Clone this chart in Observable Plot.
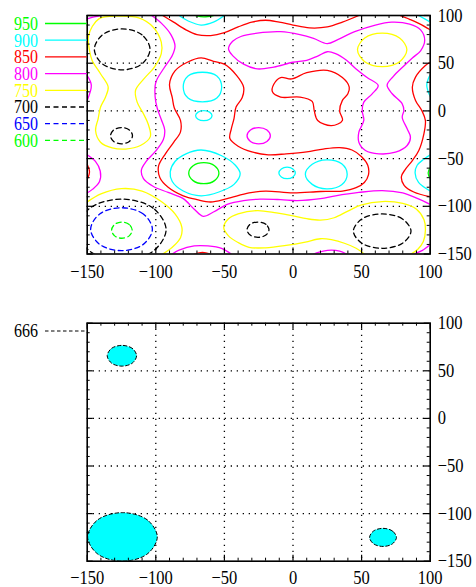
<!DOCTYPE html>
<html><head><meta charset="utf-8">
<script src="https://cdn.jsdelivr.net/npm/d3@7"></script>
<script src="https://cdn.jsdelivr.net/npm/@observablehq/plot@0.6"></script>
<style>
body{margin:0;background:#fff;}
#wrap{position:relative;width:476px;height:587px;overflow:hidden;}
.panel{position:absolute;left:0;}
#wrap svg, #wrap svg text{font-family:"Liberation Serif","DejaVu Serif",serif !important;}
</style></head><body><div id="wrap"></div>
<script>
// ---- levels / legend ----
const levels = [950, 900, 850, 800, 750, 700, 650, 600];
const levelColors = ["#00ff00", "#00ffff", "#ff0000", "#ff00ff", "#ffff00", "#000000", "#0000ff", "#00ff00"];
const levelDashed = [false, false, false, false, false, true, true, true];
const fillLevel = 666;
const tickValues = [-150, -100, -50, 0, 50, 100];
const gridValues = [-100, -50, 0, 50];
const minorValues = [-140, -130, -120, -110, -90, -80, -70, -60, -40, -30, -20, -10, 10, 20, 30, 40, 60, 70, 80, 90];

// ---- contour lines (x, y) ----
const g950_top = [[-71,100],[-65,98.5],[-58,100]];
const g950_right = [[100,-59],[98.5,-65],[100,-71]];
const g950_center = [[-54,-65.3],[-57.2,-57.5],[-65,-54.3],[-72.8,-57.5],[-76,-65.3],[-72.8,-73.1],[-65,-76.3],[-57.2,-73.1]];

const c900_top = [[-83,100],[-76,94],[-67,90],[-58,93],[-50,100]];
const c900_topRight = [[91.5,100],[96,96.5],[100,93]];
const c900_right = [[100,38],[97.5,27],[100,15]];
const c900_rightLow = [[100,-46],[95,-51],[90.5,-57],[89,-65],[91.5,-75],[100,-84]];
const c900_a = [[-52,25],[-55.5,36.6],[-66,40.5],[-76.5,36.6],[-80,25],[-76.5,13.4],[-66,9.5],[-55.5,13.4]];
const c900_b = [[-59,-5],[-60.8,-1.3],[-65,0.2],[-69.2,-1.3],[-71,-5],[-69.2,-8.7],[-65,-10.2],[-60.8,-8.7]];
const c900_c = [[-67,-41],[-52,-47],[-42,-57],[-38.5,-66],[-43,-77],[-54,-85],[-67,-89],[-80,-84],[-88,-74],[-89.5,-64],[-86,-53],[-78,-45]];
const c900_d = [[1.7,-65],[-0.1,-60.8],[-4.3,-59],[-8.5,-60.8],[-10.3,-65],[-8.5,-69.2],[-4.3,-71],[-0.1,-69.2]];
const c900_e = [[39.5,-66.5],[35.5,-55.5],[24.5,-51.3],[14,-56],[9,-66.5],[14,-77],[24.5,-81.7],[35.5,-77.5]];

const r850_top = [[-95,100],[-87,93],[-78,85],[-70,80],[-60,79],[-50,82],[-40,88],[-30,93],[-20,95],[-10,93],[0,90],[12,87],[25,88],[36,93],[48,100]];
const r850_topRight = [[78,100],[85,96],[92,91.5],[100,85]];
const r850_right = [[100,51],[96.5,47.5],[89.3,35.4],[87,25],[89.3,11],[94,0],[96.5,-10],[95.4,-24],[91.7,-41.5],[87,-52],[82,-61],[79,-69],[81,-78],[88,-85],[100,-90]];
const r850_left = [[-150,-56],[-148.3,-64],[-150,-72]];
const r850_bottom = [[-72,-150],[-66,-148.3],[-60,-150]];
const r850_band = [[-67,55.5],[-58,52],[-50,49],[-41,37],[-36,25],[-37,14],[-41.5,4],[-43,-8],[-45,-19],[-46,-29],[-40,-37],[-30,-43],[-18,-46],[-5,-45],[10,-43],[22,-40],[34,-38.5],[43,-41],[50,-48],[54.5,-57],[55,-67],[52,-75],[46,-80.5],[36,-84],[20,-84.5],[0,-86],[-20,-84],[-32,-86],[-48,-92],[-60,-95.5],[-70,-93],[-80,-89],[-91,-80],[-97,-70],[-98,-58],[-93,-45],[-87,-33],[-82,-22],[-82,-10],[-86.5,3],[-88,14],[-90,28],[-86,42],[-77,51]];
const r850_bean = [[-15,20],[-14,28],[-9,35],[-1,33.5],[10,40],[25,42.5],[36,35],[41,25],[40,18],[36,11],[34,0],[36,-10],[28,-15.5],[18,-10],[15.5,0],[14,10],[5,14.5],[-9,14.5]];

const m800_corner = [[-150,96.5],[-145,98.5],[-140,100]];
const m800_leftUp = [[-150,37],[-147,27],[-150,11]];
const m800_leftLow = [[-150,-46],[-144,-53],[-140.5,-63],[-141,-74],[-146,-82],[-150,-86]];
const m800_long = [[-103,100],[-96,92],[-89,80],[-86,68],[-88,58],[-94,45],[-100,30],[-100.5,15],[-99,3],[-96,-9],[-93.5,-20],[-94.5,-30],[-100,-42],[-107,-53],[-110.5,-62],[-109,-71],[-102,-79],[-91,-85.5],[-80,-92],[-72,-103],[-65.5,-110.5],[-58,-106],[-48,-98],[-36,-94],[-24,-92.5],[-9,-93],[3,-94],[20,-92],[31,-89],[48,-85.5],[65,-83.5],[80,-86],[91,-92],[100,-98]];
const m800_loop = [[-47,65],[-44,73],[-38,78],[-26,81.5],[-9,83],[5,80],[15,76],[25,70.5],[33,75],[45,83],[60,90],[72,93],[85,91],[93,85],[96,74],[93,63],[87,55.5],[80,46],[73,36],[68.6,27],[72.3,18],[79.6,7.4],[80.8,0.4],[79.6,-6.6],[83.2,-18.8],[85.6,-27.5],[83.2,-36.3],[74.7,-43.3],[62.6,-45],[52.8,-41.5],[48,-32.8],[48,-22.3],[51.6,-10],[50.4,0.4],[51.6,9.2],[57.7,17.9],[62.1,26.6],[54,35],[46,44],[39,53],[31,60],[25,62],[18,57.5],[10,53],[0,51],[-14,46],[-26,44],[-36,49],[-44,58]];
const m800_small = [[-16.5,-26],[-19,-20],[-25,-17.5],[-31,-20],[-33.5,-26],[-31,-32],[-25,-34.5],[-19,-32]];
const m800_bottomA = [[-88,-150],[-83,-146],[-72,-141.5],[-62,-141.5],[-52,-144],[-45,-150]];
const m800_bottomB = [[15,-150],[22,-147],[28,-146],[34,-147],[39,-150]];
const m800_bottomCorner = [[88,-150],[94,-146.5],[100,-140]];

const y750_left = [[-141.5,96.5],[-127,99.3],[-112.4,97.6],[-102,88],[-96,72],[-96,60],[-101,46],[-108.7,33.6],[-114.8,21.4],[-113.6,9.2],[-109,-3],[-105.5,-14],[-104,-27],[-111.2,-36.3],[-122,-40],[-131.8,-38.7],[-140.3,-32.8],[-143.9,-20.6],[-142,-8],[-140.3,3.9],[-136.7,14.4],[-134.7,24.9],[-140.3,38.9],[-146.4,52.8],[-148.3,63.3],[-149,79]];
const y750_bottomLeft = [[-150,-95.5],[-140,-87],[-125,-81.5],[-110,-84],[-96,-95],[-86,-108],[-81,-122],[-82,-133],[-88,-143],[-95,-150]];
const y750_bottom = [[52,-150],[46,-144],[38,-139],[28,-135],[20,-134],[9,-137.5],[-5,-141],[-20,-143.5],[-32,-143],[-40,-138],[-47,-131],[-50.5,-122],[-47,-113],[-40,-108],[-26,-104.5],[-12,-107],[0,-110],[10,-113],[20,-114.5],[30,-112],[40,-105],[50,-98.5],[65,-95],[80,-97],[90,-103],[95.5,-114],[96.5,-125],[95,-137],[91,-145],[86,-150]];
const y750_ring = [[83,64],[77.7,76.4],[65,81.5],[52.3,76.4],[47,64],[52.3,51.6],[65,46.5],[77.7,51.6]];

const k700_a = [[-104.2,64.5],[-110.1,79.7],[-124.5,86],[-138.9,79.7],[-144.8,64.5],[-138.9,49.3],[-124.5,43],[-110.1,49.3]];
const k700_b = [[-117,-26],[-119.3,-20],[-125,-17.5],[-130.7,-20],[-133,-26],[-130.7,-32],[-125,-34.5],[-119.3,-32]];
const k700_c = [[-92.5,-124.5],[-102,-101.9],[-125,-92.5],[-148,-101.9],[-157.5,-124.5],[-148,-147.1],[-125,-156.5],[-102,-147.1]];
const k700_d = [[-17.5,-124.5],[-19.8,-118.8],[-25.5,-116.5],[-31.2,-118.8],[-33.5,-124.5],[-31.2,-130.2],[-25.5,-132.5],[-19.8,-130.2]];
const k700_e = [[86,-126],[79.8,-113.3],[65,-108],[50.2,-113.3],[44,-126],[50.2,-138.7],[65,-144],[79.8,-138.7]];

const b650_ring = [[-102.5,-124],[-109.1,-108.1],[-125,-101.5],[-140.9,-108.1],[-147.5,-124],[-140.9,-139.9],[-125,-146.5],[-109.1,-139.9]];
const g600_ring = [[-117.2,-125],[-119.4,-119],[-124.7,-116.5],[-130,-119],[-132.2,-125],[-130,-131],[-124.7,-133.5],[-119.4,-131]];

// ---- level 666 regions (bottom panel) ----
const f666_a = [[-114,65.8],[-117.1,73.5],[-124.7,76.7],[-132.3,73.5],[-135.4,65.8],[-132.3,58.1],[-124.7,54.9],[-117.1,58.1]];
const f666_b = [[-98.9,-124.5],[-106.3,-106.5],[-124.3,-99],[-142.3,-106.5],[-149.7,-124.5],[-142.3,-142.5],[-124.3,-150],[-106.3,-142.5]];
const f666_c = [[75.4,-125],[72.5,-118.3],[65.6,-115.5],[58.7,-118.3],[55.8,-125],[58.7,-131.7],[65.6,-134.5],[72.5,-131.7]];

const contours = [
  {level:950, closed:false, pts:g950_top}, {level:950, closed:false, pts:g950_right}, {level:950, closed:true, pts:g950_center},
  {level:900, closed:false, pts:c900_top}, {level:900, closed:false, pts:c900_topRight}, {level:900, closed:false, pts:c900_right},
  {level:900, closed:false, pts:c900_rightLow}, {level:900, closed:true, pts:c900_a}, {level:900, closed:true, pts:c900_b},
  {level:900, closed:true, pts:c900_c}, {level:900, closed:true, pts:c900_d}, {level:900, closed:true, pts:c900_e},
  {level:850, closed:false, pts:r850_top}, {level:850, closed:false, pts:r850_topRight}, {level:850, closed:false, pts:r850_right},
  {level:850, closed:false, pts:r850_left}, {level:850, closed:false, pts:r850_bottom}, {level:850, closed:true, pts:r850_band},
  {level:850, closed:true, pts:r850_bean},
  {level:800, closed:false, pts:m800_corner}, {level:800, closed:false, pts:m800_leftUp}, {level:800, closed:false, pts:m800_leftLow},
  {level:800, closed:false, pts:m800_long}, {level:800, closed:true, pts:m800_loop}, {level:800, closed:true, pts:m800_small},
  {level:800, closed:false, pts:m800_bottomA}, {level:800, closed:false, pts:m800_bottomB}, {level:800, closed:false, pts:m800_bottomCorner},
  {level:750, closed:true, pts:y750_left}, {level:750, closed:false, pts:y750_bottomLeft}, {level:750, closed:false, pts:y750_bottom},
  {level:750, closed:true, pts:y750_ring},
  {level:700, closed:true, pts:k700_a}, {level:700, closed:true, pts:k700_b}, {level:700, closed:true, pts:k700_c},
  {level:700, closed:true, pts:k700_d}, {level:700, closed:true, pts:k700_e},
  {level:650, closed:true, pts:b650_ring},
  {level:600, closed:true, pts:g600_ring}
];
const fills666 = [f666_a, f666_b, f666_c];

// ---- build tables ----
const colorOf = lv => levelColors[levels.indexOf(lv)];
const dashedOf = lv => levelDashed[levels.indexOf(lv)];
function rows(filterFn) {
  const out = [];
  contours.forEach((c, i) => { if (filterFn(c)) c.pts.forEach(([x, y]) => out.push({id: i, level: c.level, color: colorOf(c.level), x, y})); });
  return out;
}
const solidOpen = rows(c => !c.closed && !dashedOf(c.level));
const solidClosed = rows(c => c.closed && !dashedOf(c.level));
const dashedClosed = rows(c => c.closed && dashedOf(c.level));
const fillRows = fills666.flatMap((p, i) => p.map(([x, y]) => ({id: i, x, y})));

const FONT = "'Liberation Serif', 'DejaVu Serif', serif";
const pxX = 250 / 343, pxY = 250 / 238.5; // data units per pixel

function frameMarks() {
  return [
    Plot.ruleX(gridValues, {stroke: "black", strokeWidth: 1.3, strokeDasharray: "1.3,4.7"}),
    Plot.ruleY(gridValues, {stroke: "black", strokeWidth: 1.3, strokeDasharray: "1.3,4.7"})
  ];
}
function tickMarks(padBottom) {
  const big = 6, small = 3;
  return [
    Plot.ruleX(tickValues, {y1: -150, y2: -150 + big * pxY, stroke: "black", strokeWidth: 1.2}),
    Plot.ruleX(tickValues, {y1: 100, y2: 100 - big * pxY, stroke: "black", strokeWidth: 1.2}),
    Plot.ruleY(tickValues, {x1: -150, x2: -150 + big * pxX, stroke: "black", strokeWidth: 1.2}),
    Plot.ruleY(tickValues, {x1: 100, x2: 100 - big * pxX, stroke: "black", strokeWidth: 1.2}),
    Plot.ruleX(minorValues, {y1: -150, y2: -150 + small * pxY, stroke: "black", strokeWidth: 1}),
    Plot.ruleX(minorValues, {y1: 100, y2: 100 - small * pxY, stroke: "black", strokeWidth: 1}),
    Plot.ruleY(minorValues, {x1: -150, x2: -150 + small * pxX, stroke: "black", strokeWidth: 1}),
    Plot.ruleY(minorValues, {x1: 100, x2: 100 - small * pxX, stroke: "black", strokeWidth: 1}),
    Plot.frame({stroke: "black", strokeWidth: 1.6}),
    Plot.axisX(tickValues, {anchor: "bottom", tickSize: 0, tickPadding: padBottom, label: null, fontSize: 16.5}),
    Plot.axisY(tickValues, {anchor: "right", tickSize: 0, tickPadding: 7.5, label: null, fontSize: 16.5})
  ];
}

const common = {
  width: 476,
  marginLeft: 86.7, marginRight: 46.3,
  x: {domain: [-150, 100]},
  y: {domain: [-150, 100]},
  color: {type: "identity"},
  style: {fontFamily: FONT, fontSize: "16.5px", background: "transparent", overflow: "visible"}
};

const topPlot = Plot.plot({
  ...common,
  height: 300, marginTop: 15, marginBottom: 46.5,
  marks: [
    ...frameMarks(),
    Plot.line(solidOpen, {x: "x", y: "y", z: "id", stroke: "color", strokeWidth: 1.3, curve: "catmull-rom", clip: true}),
    Plot.line(solidClosed, {x: "x", y: "y", z: "id", stroke: "color", strokeWidth: 1.3, curve: "catmull-rom-closed", clip: true}),
    Plot.line(dashedClosed, {x: "x", y: "y", z: "id", stroke: "color", strokeWidth: 1.3, strokeDasharray: "5,3.5", curve: "catmull-rom-closed", clip: true}),
    ...tickMarks(10.5)
  ]
});

const bottomPlot = Plot.plot({
  ...common,
  height: 287, marginTop: 22.7, marginBottom: 26.3,
  marks: [
    ...frameMarks(),
    Plot.line(fillRows, {x: "x", y: "y", z: "id", fill: "#00ffff", stroke: "none", curve: "catmull-rom-closed", clip: true}),
    Plot.line(fillRows, {x: "x", y: "y", z: "id", stroke: "black", strokeWidth: 1, strokeDasharray: "3.5,2.5", curve: "catmull-rom-closed", clip: true}),
    ...tickMarks(9)
  ]
});

const wrap = document.getElementById("wrap");
topPlot.classList.add("panel"); topPlot.style.top = "0px";
bottomPlot.classList.add("panel"); bottomPlot.style.top = "300px";
wrap.appendChild(topPlot);
wrap.appendChild(bottomPlot);

// ---- legends (left margin) ----
const legTop = d3.select(topPlot).append("g").attr("font-family", FONT).attr("font-size", 16);
levels.forEach((lv, i) => {
  const y = 23.5 + i * 16.7;
  legTop.append("text").attr("x", 38).attr("y", y).attr("dy", "0.35em").attr("text-anchor", "end").attr("fill", levelColors[i]).text(lv);
  legTop.append("line").attr("x1", 45).attr("x2", 86.7).attr("y1", y).attr("y2", y)
    .attr("stroke", levelColors[i]).attr("stroke-width", 1.3).attr("stroke-dasharray", levelDashed[i] ? "5,3.5" : null);
});
const legBot = d3.select(bottomPlot).append("g").attr("font-family", FONT).attr("font-size", 16);
legBot.append("text").attr("x", 38).attr("y", 31).attr("dy", "0.35em").attr("text-anchor", "end").attr("fill", "black").text(fillLevel);
legBot.append("line").attr("x1", 45).attr("x2", 86.7).attr("y1", 31).attr("y2", 31)
  .attr("stroke", "black").attr("stroke-width", 1).attr("stroke-dasharray", "3.5,2.5");

// the reference lettering is tall and narrow: enlarge glyphs but keep original widths
const STRETCH = 1.15;
d3.select(wrap).selectAll("svg text").each(function () {
  const w = this.getComputedTextLength();
  const fs = parseFloat(getComputedStyle(this).fontSize);
  if (!w || !fs) return;
  this.setAttribute("font-size", fs * STRETCH);
  this.style.fontSize = (fs * STRETCH) + "px";
  this.setAttribute("textLength", w);
  this.setAttribute("lengthAdjust", "spacingAndGlyphs");
});
</script>
</body></html>
